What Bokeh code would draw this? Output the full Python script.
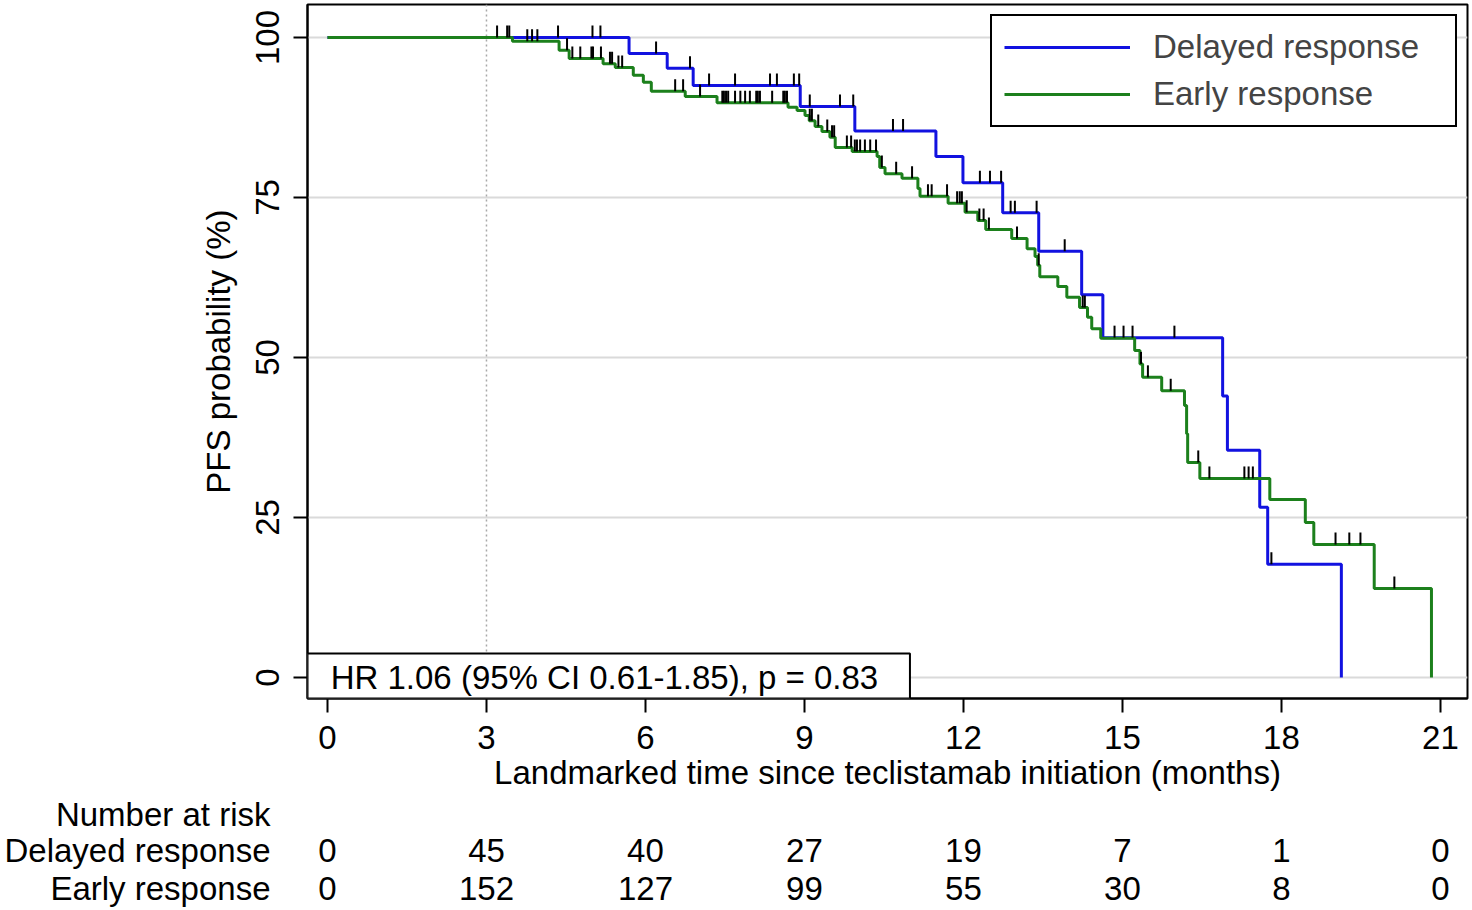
import numpy as np
from bokeh.plotting import figure
from bokeh.layouts import column
from bokeh.models import (Range1d, Label, BoxAnnotation, Legend, LegendItem,
                          FixedTicker, Span, ColumnDataSource)
from bokeh.core.properties import value
from bokeh.embed import file_html
from bokeh.resources import INLINE

# ---------------- data ----------------
delayed_event_t = [5.69, 6.41, 6.90, 8.92, 9.95, 11.48, 11.99, 12.74, 13.42,
                   14.23, 14.63, 16.89, 16.98, 17.59, 17.74, 19.13]
delayed_event_s = [97.5, 95.2, 92.5, 89.2, 85.4, 81.4, 77.3, 72.6, 66.6,
                   59.8, 53.1, 44.0, 35.5, 26.6, 17.7, 0.0]
delayed_censor_t = [3.20, 3.39, 4.35, 5.00, 5.15, 6.20, 6.84, 7.20, 7.69, 8.35,
                    8.48, 8.80, 8.90, 9.10, 9.67, 9.92, 10.67, 10.86, 12.31,
                    12.50, 12.71, 12.89, 12.97, 13.38, 13.91, 14.85, 15.02,
                    15.19, 15.98, 17.81]

early_event_t = [3.49, 4.37, 4.56, 5.20, 5.43, 5.77, 5.96, 6.11, 6.75, 7.35,
                 8.69, 8.86, 9.01, 9.09, 9.20, 9.33, 9.48, 9.58, 9.90, 10.37,
                 10.42, 10.52, 10.84, 11.14, 11.18, 11.71, 12.03, 12.27, 12.42,
                 12.91, 13.20, 13.35, 13.40, 13.44, 13.78, 13.95, 14.19, 14.34,
                 14.42, 14.59, 15.23, 15.33, 15.38, 15.74, 16.17, 16.21, 16.23,
                 16.46, 17.78, 18.45, 18.61, 19.75, 20.83]
early_event_s = [99.4, 98.0, 96.7, 95.9, 95.3, 94.1, 93.0, 91.6, 90.8, 89.8,
                 89.1, 88.6, 87.8, 87.0, 86.1, 85.3, 84.4, 82.8, 82.2, 81.4,
                 79.7, 78.7, 78.0, 76.4, 75.2, 74.1, 72.7, 71.4, 70.0,
                 68.6, 67.0, 65.8, 64.4, 62.6, 61.1, 59.4, 57.8, 56.3,
                 54.5, 53.0, 51.1, 49.0, 46.9, 44.8, 42.5, 38.1, 33.6,
                 31.1, 27.8, 24.2, 20.8, 13.9, 0.0]
early_censor_t = [3.43, 3.77, 3.86, 3.96, 4.52, 4.62, 4.77, 4.98, 5.01, 5.16,
                  5.33, 5.37, 5.49, 5.56, 6.56, 6.71, 7.03, 7.45, 7.48, 7.52,
                  7.56, 7.69, 7.79, 7.88, 7.97, 8.09, 8.12, 8.16, 8.39, 8.60,
                  8.63, 8.67, 9.10, 9.14, 9.26, 9.43, 9.52, 9.56, 9.80, 9.88,
                  9.95, 9.99, 10.05, 10.14, 10.24, 10.35, 10.46, 10.73, 11.03,
                  11.33, 11.40, 11.69, 11.88, 11.93, 11.97, 12.06, 12.30, 12.38,
                  12.48, 13.01, 13.42, 14.25, 14.29, 15.35, 15.48, 15.91, 16.43,
                  16.64, 17.30, 17.38, 17.46, 19.02, 19.28, 19.49, 20.13]

tick_months = [0, 3, 6, 9, 12, 15, 18, 21]
y_ticks = [0, 25, 50, 75, 100]
risk_delayed = [0, 45, 40, 27, 19, 7, 1, 0]
risk_early = [0, 152, 127, 99, 55, 30, 8, 0]
group_names = ["Delayed response", "Early response"]
landmark_month = 3
hr_text = "HR 1.06 (95% CI 0.61-1.85), p = 0.83"
x_title = "Landmarked time since teclistamab initiation (months)"
y_title = "PFS probability (%)"
risk_title = "Number at risk"

FONT = "Liberation Sans"
FS = "33px"
BLUE = "#1212e0"
GREEN = "#1c801c"
W = 1470


def curve(ev_t, ev_s):
    x = np.array([0.0] + list(ev_t))
    y = np.array([100.0] + list(ev_s))
    return x, y


def at(x, y, c):
    idx = np.searchsorted(x, np.array(c), side="right") - 1
    return y[idx]


def style_axis(ax):
    ax.axis_line_width = 2
    ax.axis_line_color = "black"
    ax.major_tick_line_width = 2
    ax.major_tick_line_color = "black"
    ax.major_tick_out = 14
    ax.major_tick_in = 0
    ax.minor_tick_line_color = None
    ax.major_label_text_font = FONT
    ax.major_label_text_font_size = FS
    ax.major_label_text_color = "black"
    ax.axis_label_text_font = FONT
    ax.axis_label_text_font_size = FS
    ax.axis_label_text_font_style = "normal"
    ax.axis_label_text_color = "black"


# ---------------- main figure ----------------
xr = Range1d(-0.377, 21.51)
p = figure(width=W, height=795, output_backend="svg", toolbar_location=None,
           x_range=xr, y_range=Range1d(-3.281, 105.156),
           min_border_left=307, min_border_right=3, min_border_top=4,
           min_border_bottom=97)
p.background_fill_color = "white"
p.border_fill_color = "white"
p.outline_line_color = "black"
p.outline_line_width = 2

p.xgrid.visible = False
p.ygrid.grid_line_color = "#dadada"
p.ygrid.grid_line_width = 2

style_axis(p.xaxis[0])
style_axis(p.yaxis[0])
p.xaxis.ticker = FixedTicker(ticks=tick_months)
p.yaxis.ticker = FixedTicker(ticks=y_ticks)
p.yaxis.major_label_orientation = "vertical"
p.xaxis.major_label_standoff = 13
p.yaxis.major_label_standoff = 14
p.xaxis.axis_label = x_title
p.xaxis.axis_label_standoff = 2
p.yaxis.axis_label = y_title
p.yaxis.axis_label_standoff = 17

# landmark dotted line
p.add_layout(Span(location=landmark_month, dimension="height", line_color="#a8a8a8",
                  line_dash="2 3", line_width=1.5, level="underlay"))

# curves
xd, yd = curve(delayed_event_t, delayed_event_s)
xe, ye = curve(early_event_t, early_event_s)
r_d = p.step(xd, yd, mode="after", line_color=BLUE, line_width=3)
r_e = p.step(xe, ye, mode="after", line_color=GREEN, line_width=3)

# censor marks
p.ray(x=delayed_censor_t, y=at(xd, yd, delayed_censor_t), length=12,
      length_units="screen", angle=np.pi / 2, line_color="black", line_width=2)
p.ray(x=early_censor_t, y=at(xe, ye, early_censor_t), length=12,
      length_units="screen", angle=np.pi / 2, line_color="black", line_width=2)

# HR box
p.add_layout(BoxAnnotation(right=10.99, top=3.75, fill_color="white", fill_alpha=1.0,
                           line_color="black", line_width=2, line_alpha=1.0))
p.add_layout(Label(x=0.06, y=0, text=hr_text, text_baseline="middle",
                   text_font=FONT, text_font_size=FS, text_color="black"))

# legend
legend = Legend(items=[LegendItem(label=group_names[0], renderers=[r_d]),
                       LegendItem(label=group_names[1], renderers=[r_e])],
                location="top_right", border_line_color="black", border_line_width=2,
                border_line_alpha=1.0, background_fill_alpha=1.0,
                label_text_font=FONT, label_text_font_size=FS,
                glyph_width=126, label_standoff=23, label_width=290,
                padding=12, spacing=9, margin=10)
p.add_layout(legend)

# ---------------- number-at-risk table ----------------
TH = 113
row_pos = [14, 55, 93]          # title row, delayed row, early row
t = figure(width=W, height=TH, output_backend="svg", toolbar_location=None,
           x_range=xr, y_range=Range1d(TH, 0),
           min_border_left=307, min_border_right=3, min_border_top=0,
           min_border_bottom=0)
t.xaxis.visible = False
t.grid.visible = False
t.outline_line_color = None
t.background_fill_color = "white"
t.border_fill_color = "white"

ya = t.yaxis[0]
style_axis(ya)
ya.ticker = FixedTicker(ticks=row_pos)
ya.major_label_overrides = {row_pos[0]: risk_title, row_pos[1]: group_names[0],
                            row_pos[2]: group_names[1]}
ya.axis_line_color = None
ya.major_tick_line_color = None
ya.major_tick_out = 0
ya.major_label_standoff = 37

src = ColumnDataSource(dict(
    x=tick_months + tick_months,
    y=[row_pos[1]] * len(tick_months) + [row_pos[2]] * len(tick_months),
    n=[str(v) for v in risk_delayed] + [str(v) for v in risk_early]))
t.text(x="x", y="y", text="n", source=src, text_align="center",
       text_baseline="middle", text_font=value(FONT), text_font_size=value(FS),
       text_color="black")

layout = column(p, t, spacing=0)
open("out.html", "w").write(file_html(layout, INLINE))
